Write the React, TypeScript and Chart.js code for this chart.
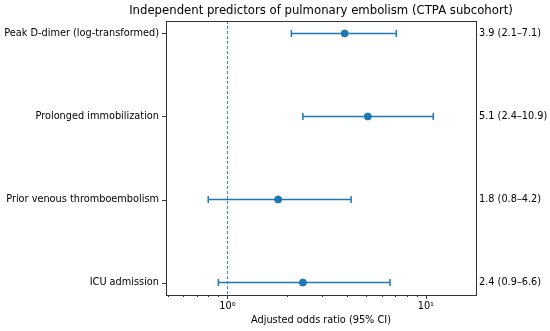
import React, { useEffect, useRef } from "react";
import { Chart, registerables } from "chart.js";

Chart.register(...registerables);

const categories = [
  "Peak D-dimer (log-transformed)",
  "Prolonged immobilization",
  "Prior venous thromboembolism",
  "ICU admission",
];
const oddsRatios = [3.9, 5.1, 1.8, 2.4];
const lowerCI = [2.1, 2.4, 0.8, 0.9];
const upperCI = [7.1, 10.9, 4.2, 6.6];
const rightLabels = ["3.9 (2.1–7.1)", "5.1 (2.4–10.9)", "1.8 (0.8–4.2)", "2.4 (0.9–6.6)"];
const majorTicks = [1, 10];
const majorTickLabels = ["10⁰", "10¹"];
const minorTicks = [0.5, 0.6, 0.7, 0.8, 0.9, 2, 3, 4, 5, 6, 7, 8, 9];
const titleText = "Independent predictors of pulmonary embolism (CTPA subcohort)";
const xLabel = "Adjusted odds ratio (95% CI)";

const BLUE = "#1f77b4";
const FONT = "'DejaVu Sans', sans-serif";

const forestPlugin = {
  id: "forest",
  beforeDatasetsDraw(chart: any) {
    const { ctx, chartArea: a, scales } = chart;
    const x = scales.x;
    const y = scales.y;
    ctx.save();
    // reference line at 1
    ctx.strokeStyle = BLUE;
    ctx.globalAlpha = 0.85;
    ctx.lineWidth = 1;
    ctx.setLineDash([3, 2]);
    const px1 = Math.round(x.getPixelForValue(1)) + 0.5;
    ctx.beginPath();
    ctx.moveTo(px1, a.top);
    ctx.lineTo(px1, a.bottom);
    ctx.stroke();
    ctx.setLineDash([]);
    ctx.globalAlpha = 1;
    // error bars
    ctx.lineWidth = 1.5;
    for (let i = 0; i < categories.length; i++) {
      const py = y.getPixelForValue(i);
      const xl = x.getPixelForValue(lowerCI[i]);
      const xh = x.getPixelForValue(upperCI[i]);
      ctx.beginPath();
      ctx.moveTo(xl, py);
      ctx.lineTo(xh, py);
      ctx.moveTo(xl, py - 3.5);
      ctx.lineTo(xl, py + 3.5);
      ctx.moveTo(xh, py - 3.5);
      ctx.lineTo(xh, py + 3.5);
      ctx.stroke();
    }
    ctx.restore();
  },
  afterDraw(chart: any) {
    const { ctx, chartArea: a, scales } = chart;
    const x = scales.x;
    const y = scales.y;
    ctx.save();
    // frame
    ctx.strokeStyle = "#333";
    ctx.lineWidth = 1;
    ctx.strokeRect(Math.round(a.left) + 0.5, Math.round(a.top) + 0.5, Math.round(a.right - a.left), Math.round(a.bottom - a.top));
    // x ticks
    for (const v of majorTicks) {
      const px = Math.round(x.getPixelForValue(v)) + 0.5;
      ctx.beginPath();
      ctx.moveTo(px, a.bottom);
      ctx.lineTo(px, a.bottom + 4);
      ctx.stroke();
    }
    for (const v of minorTicks) {
      const px = Math.round(x.getPixelForValue(v)) + 0.5;
      ctx.beginPath();
      ctx.moveTo(px, a.bottom);
      ctx.lineTo(px, a.bottom + 2);
      ctx.stroke();
    }
    // y ticks
    for (let i = 0; i < categories.length; i++) {
      const py = Math.round(y.getPixelForValue(i)) + 0.5;
      ctx.beginPath();
      ctx.moveTo(a.left - 4, py);
      ctx.lineTo(a.left, py);
      ctx.stroke();
    }
    ctx.fillStyle = "#000";
    ctx.textBaseline = "middle";
    // x tick labels
    ctx.font = `9.75px ${FONT}`;
    ctx.textAlign = "center";
    majorTicks.forEach((v, i) => {
      ctx.fillText(majorTickLabels[i], x.getPixelForValue(v), a.bottom + 11);
    });
    // y labels
    ctx.textAlign = "right";
    categories.forEach((c, i) => {
      ctx.fillText(c, a.left - 7, y.getPixelForValue(i));
    });
    // right labels
    ctx.textAlign = "left";
    rightLabels.forEach((t, i) => {
      ctx.fillText(t, a.right + 3, y.getPixelForValue(i));
    });
    // x label
    ctx.textAlign = "center";
    ctx.fillText(xLabel, (a.left + a.right) / 2, a.bottom + 25);
    // title
    ctx.font = `11.7px ${FONT}`;
    ctx.fillText(titleText, (a.left + a.right) / 2, a.top - 10);
    ctx.restore();
  },
};

export default function App() {
  const ref = useRef<HTMLCanvasElement | null>(null);
  useEffect(() => {
    document.body.style.margin = "0";
    const chart = new Chart(ref.current as HTMLCanvasElement, {
      type: "scatter",
      data: {
        datasets: [
          {
            data: oddsRatios.map((v, i) => ({ x: v, y: i })),
            backgroundColor: BLUE,
            borderColor: BLUE,
            pointRadius: 3.5,
            pointHoverRadius: 3.5,
          },
        ],
      },
      options: {
        animation: false,
        responsive: false,
        events: [],
        layout: { padding: { top: 21, right: 74, left: 0, bottom: 0 } },
        plugins: { legend: { display: false }, tooltip: { enabled: false } },
        scales: {
          x: {
            type: "logarithmic",
            min: 0.49,
            max: 17.9,
            grid: { display: false },
            border: { display: false },
            ticks: { display: false },
            afterFit: (s: any) => {
              s.height = 36;
            },
          },
          y: {
            type: "linear",
            min: -0.15,
            max: 3.15,
            reverse: true,
            grid: { display: false },
            border: { display: false },
            ticks: { display: false },
            afterFit: (s: any) => {
              s.width = 166;
            },
          },
        },
      },
      plugins: [forestPlugin],
    } as any);
    return () => chart.destroy();
  }, []);
  return (
    <div style={{ width: 550, height: 331 }}>
      <canvas ref={ref} width={550} height={331} />
    </div>
  );
}
